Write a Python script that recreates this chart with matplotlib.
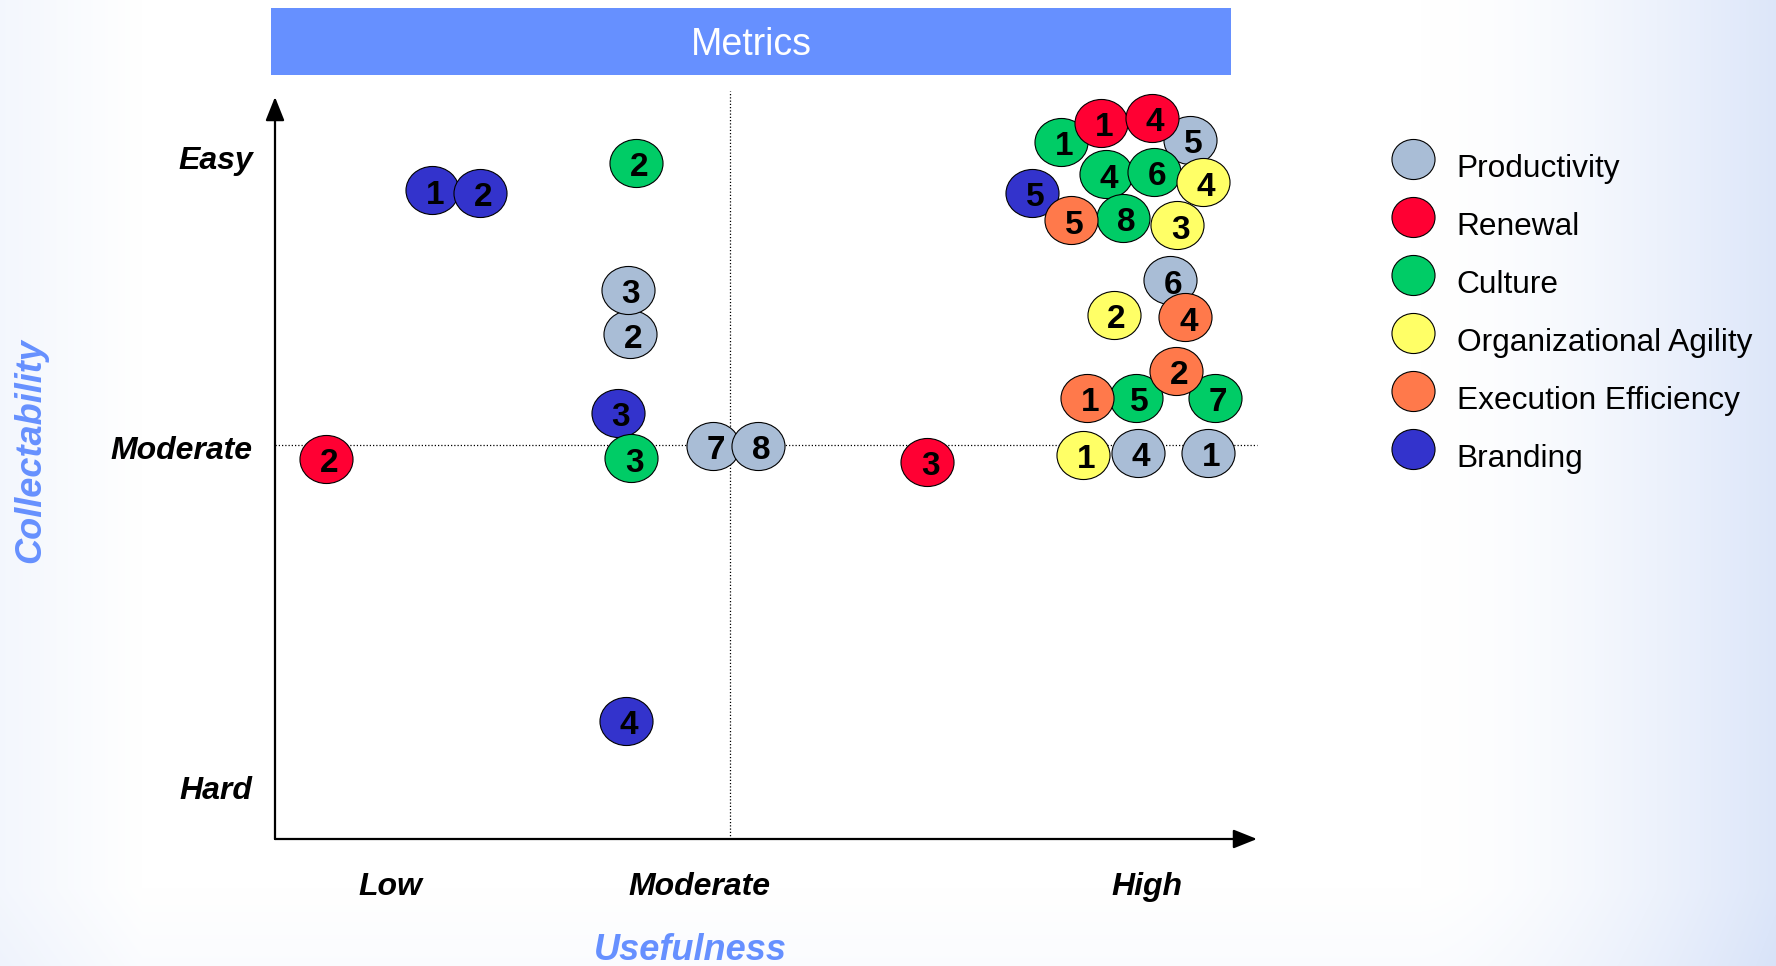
import numpy as np
import matplotlib
matplotlib.use("Agg")
import matplotlib.pyplot as plt
from matplotlib.path import Path
from matplotlib.transforms import Affine2D
from matplotlib.patches import Rectangle

FONT = "Liberation Sans"

# categories shown in the legend (legend order)
SERIES = ["Productivity", "Renewal", "Culture", "Organizational Agility",
          "Execution Efficiency", "Branding"]
COLORS = ["#A9BDD6", "#FF0033", "#00CC66", "#FFFF66", "#FF794B", "#3333CC"]

# usefulness (x) / collectability (y) on a 0-10 scale
PROD_X = [9.50, 3.62, 3.59, 8.79, 9.32, 9.11, 4.46, 4.92]
PROD_Y = [5.20, 6.80, 7.40, 5.20, 9.42, 7.53, 5.30, 5.30]
PROD_ID = ["1", "2", "3", "4", "5", "6", "7", "8"]

RENEW_X = [8.41, 0.52, 6.64, 8.93]
RENEW_Y = [9.65, 5.12, 5.08, 9.72]
RENEW_ID = ["1", "2", "3", "4"]

CULT_X = [8.00, 3.68, 3.63, 8.46, 8.77, 8.95, 9.57, 8.64]
CULT_Y = [9.40, 9.11, 5.13, 8.96, 5.95, 8.99, 5.95, 8.37]
CULT_ID = ["1", "2", "3", "4", "5", "6", "7", "8"]

AGIL_X = [8.23, 8.54, 9.19, 9.45]
AGIL_Y = [5.18, 7.06, 8.27, 8.85]
AGIL_ID = ["1", "2", "3", "4"]

EXEC_X = [8.27, 9.18, 9.27, 8.11]
EXEC_Y = [5.95, 6.31, 7.03, 8.34]
EXEC_ID = ["1", "2", "4", "5"]

BRAND_X = [1.60, 2.09, 3.49, 3.57, 7.71]
BRAND_Y = [8.74, 8.71, 5.74, 1.59, 8.71]
BRAND_ID = ["1", "2", "3", "4", "5"]

X_TICKS = [1.17, 4.32, 8.88]
X_LABELS = ["Low", "Moderate", "High"]
Y_TICKS = [0.70, 5.28, 9.19]
Y_LABELS = ["Hard", "Moderate", "Easy"]
X_MID = 4.63
Y_MID = 5.31

POINTS = {
    "Productivity": (PROD_X, PROD_Y, PROD_ID),
    "Renewal": (RENEW_X, RENEW_Y, RENEW_ID),
    "Culture": (CULT_X, CULT_Y, CULT_ID),
    "Organizational Agility": (AGIL_X, AGIL_Y, AGIL_ID),
    "Execution Efficiency": (EXEC_X, EXEC_Y, EXEC_ID),
    "Branding": (BRAND_X, BRAND_Y, BRAND_ID),
}
DRAW_ORDER = ["Branding", "Productivity", "Culture", "Renewal",
              "Organizational Agility", "Execution Efficiency"]


def ellipse_marker(ratio):
    circle = Path.unit_circle()
    return circle.transformed(Affine2D().scale(1.0, ratio))


W, H, DPI = 1776, 966, 100
fig = plt.figure(figsize=(W / DPI, H / DPI), dpi=DPI)

# faint bluish background toward the edges
xx = np.linspace(0, 1, W)[None, :]
yy = np.linspace(0, 1, H)[:, None]
w = np.clip((xx - 0.80) / 0.20, 0, 1) ** 1.6 * 0.75
w = w + np.clip((0.08 - xx) / 0.08, 0, 1) * 0.25
w = w + np.clip((yy - 0.92) / 0.08, 0, 1) * 0.10 * np.ones_like(xx)
w = np.clip(w, 0, 1)[..., None] * np.ones((1, 1, 3))
tint = np.array([0.82, 0.87, 0.97])
bg = 1.0 * (1 - w) + tint * w
fig.figimage(bg, xo=0, yo=0, zorder=-10, origin="upper")

# title bar
fig.patches.append(Rectangle((271 / W, 1 - 75 / H), 960 / W, 67 / H,
                             transform=fig.transFigure, facecolor="#6690FF",
                             edgecolor="none", zorder=1))
fig.text(751 / W, 1 - 45 / H, "Metrics", color="white", fontsize=27,
         family=FONT, ha="center", va="center", zorder=2)

ax = fig.add_axes([275 / W, 1 - 839 / H, 982 / W, 742 / H])
ax.set_xlim(0, 10)
ax.set_ylim(0, 10)
ax.patch.set_visible(False)
for s in ax.spines.values():
    s.set_visible(False)

arrow = dict(arrowstyle="-|>,head_length=0.5,head_width=0.2", lw=1.6,
             color="black", mutation_scale=29, shrinkA=0, shrinkB=0)
ax.annotate("", xy=(10, 0), xytext=(0, 0), arrowprops=arrow, annotation_clip=False)
ax.annotate("", xy=(0, 10), xytext=(0, 0), arrowprops=arrow, annotation_clip=False)
ax.plot([X_MID, X_MID], [0, 10.08], color="black", lw=0.9,
        linestyle=(0, (1, 1.6)), clip_on=False)
ax.plot([0, 10], [Y_MID, Y_MID], color="black", lw=0.9,
        linestyle=(0, (1, 1.6)), clip_on=False)

ax.set_xticks(X_TICKS)
ax.set_xticklabels(X_LABELS)
ax.set_yticks(Y_TICKS)
ax.set_yticklabels(Y_LABELS)
ax.tick_params(length=0)
ax.tick_params(axis="x", pad=24)
ax.tick_params(axis="y", pad=16)
for lab in ax.get_xticklabels() + ax.get_yticklabels():
    lab.set_fontfamily(FONT)
    lab.set_fontsize(23)
    lab.set_fontweight("bold")
    lab.set_fontstyle("italic")

ax.text(0.4226, -0.1496, "Usefulness", transform=ax.transAxes, ha="center",
        va="center", color="#6690FF", fontsize=26, family=FONT,
        fontweight="bold", fontstyle="italic")
ax.text(-0.2485, 0.523, "Collectability", transform=ax.transAxes, ha="center",
        va="center", rotation=90, color="#6690FF", fontsize=26, family=FONT,
        fontweight="bold", fontstyle="italic")

bubble = ellipse_marker(48 / 53)
z = 3
for name in DRAW_ORDER:
    xs, ys, ids = POINTS[name]
    color = COLORS[SERIES.index(name)]
    for x, y, label in zip(xs, ys, ids):
        ax.scatter([x], [y], s=1459, marker=bubble, facecolor=color,
                   edgecolor="black", linewidth=0.8, zorder=z, clip_on=False)
        ax.annotate(label, (x, y), xytext=(2.2, -9.6), textcoords="offset points",
                    ha="center", va="baseline", fontsize=24, fontweight="bold",
                    family=FONT, zorder=z + 0.5, annotation_clip=False)
        z += 1

# legend
lax = fig.add_axes([1380 / W, 1 - 478 / H, 396 / W, 348 / H])
lax.set_xlim(0, 1)
lax.set_ylim(len(SERIES) - 0.5, -0.5)
lax.axis("off")
lmark = ellipse_marker(40 / 43)
for i, (name, color) in enumerate(zip(SERIES, COLORS)):
    lax.scatter([0.0833], [i], s=961, marker=lmark, facecolor=color,
                edgecolor="black", linewidth=0.8, clip_on=False)
    lax.text(0.194, i + 0.31, name, fontsize=22.8, family=FONT,
             ha="left", va="baseline")

fig.savefig("out.png", dpi=DPI)
